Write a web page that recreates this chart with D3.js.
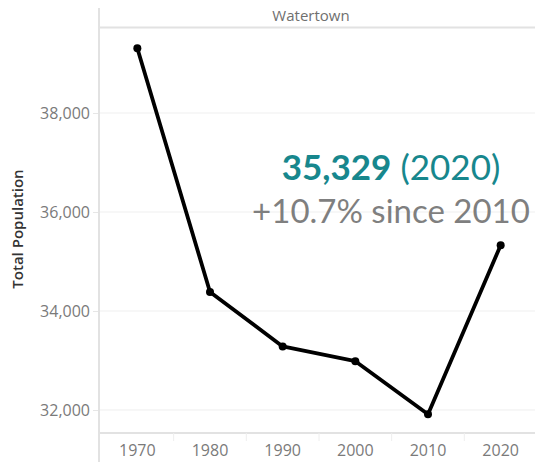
<!DOCTYPE html>
<html>
<head>
<meta charset="utf-8">
<script src="https://cdn.jsdelivr.net/npm/d3@7"></script>
<style>
  body { margin: 0; background: #fff; }
  svg { display: block; font-family: "Open Sans", sans-serif; }
</style>
</head>
<body>
<svg id="chart" width="535" height="462"></svg>
<script>
// census years and population, Watertown
var years = ["1970", "1980", "1990", "2000", "2010", "2020"];
var population = [39307, 34384, 33284, 32986, 31915, 35329];
var yTicks = [32000, 34000, 36000, 38000];
var townName = "Watertown";
var yTitle = "Total Population";

var svg = d3.select("#chart");
var plotL = 100, plotR = 535, plotT = 28, plotB = 433;

var x = d3.scaleBand().domain(years).range([plotL + 1, plotR + 2]);
var y = d3.scaleLinear().domain([31535, 39717]).range([plotB, plotT]);

var data = years.map(function(d, i) { return { year: d, value: population[i] }; });

// header band
svg.append("line")
    .attr("x1", plotL).attr("x2", plotR)
    .attr("y1", plotT - 0.5).attr("y2", plotT - 0.5)
    .attr("stroke", "#e2e2e2").attr("stroke-width", 2);
svg.append("text")
    .attr("x", 311).attr("y", 21)
    .attr("text-anchor", "middle")
    .attr("font-size", 15)
    .attr("fill", "#6f6f6f")
    .text(townName);

// gridlines
svg.append("g").selectAll("line")
    .data(yTicks)
    .enter().append("line")
    .attr("x1", plotL).attr("x2", plotR)
    .attr("y1", function(d) { return y(d); })
    .attr("y2", function(d) { return y(d); })
    .attr("stroke", "#efefef").attr("stroke-width", 1);

// y axis
var yAxis = svg.append("g")
    .attr("transform", "translate(" + plotL + ",0)")
    .call(d3.axisLeft(y).tickValues(yTicks).tickSize(7).tickPadding(3).tickFormat(d3.format(",")));
yAxis.select(".domain").remove();
yAxis.selectAll(".tick line").attr("stroke", "#e6e6e6");
yAxis.selectAll(".tick text")
    .attr("font-family", "Open Sans, sans-serif")
    .attr("font-size", 16).attr("fill", "#7a7a7a");

svg.append("line")
    .attr("x1", plotL - 1).attr("x2", plotL - 1)
    .attr("y1", 8).attr("y2", 462)
    .attr("stroke", "#e2e2e2").attr("stroke-width", 2);

svg.append("text")
    .attr("transform", "translate(23," + 229 + ") rotate(-90)")
    .attr("text-anchor", "middle")
    .attr("font-size", 15)
    .attr("font-weight", 600)
    .attr("fill", "#333")
    .text(yTitle);

// x axis
svg.append("line")
    .attr("x1", plotL).attr("x2", plotR)
    .attr("y1", plotB).attr("y2", plotB)
    .attr("stroke", "#e2e2e2").attr("stroke-width", 2);
var xAxis = svg.append("g")
    .attr("transform", "translate(0," + plotB + ")")
    .call(d3.axisBottom(x).tickSize(0).tickPadding(12));
xAxis.select(".domain").remove();
xAxis.selectAll(".tick text")
    .attr("font-family", "Open Sans, sans-serif")
    .attr("font-size", 16).attr("fill", "#7a7a7a");
svg.append("g").selectAll("line")
    .data(years.slice(1))
    .enter().append("line")
    .attr("x1", function(d) { return x(d); })
    .attr("x2", function(d) { return x(d); })
    .attr("y1", plotB).attr("y2", plotB + 8)
    .attr("stroke", "#eeeeee");

// the line
var line = d3.line()
    .x(function(d) { return x(d.year) + x.bandwidth() / 2; })
    .y(function(d) { return y(d.value); });

svg.append("path")
    .datum(data)
    .attr("d", line)
    .attr("fill", "none")
    .attr("stroke", "#000")
    .attr("stroke-width", 3.8)
    .attr("stroke-linejoin", "round");

svg.append("g").selectAll("circle")
    .data(data)
    .enter().append("circle")
    .attr("cx", function(d) { return x(d.year) + x.bandwidth() / 2; })
    .attr("cy", function(d) { return y(d.value); })
    .attr("r", 4)
    .attr("fill", "#000");

// annotation
var last = data[data.length - 1], prev = data[data.length - 2];
var change = (last.value - prev.value) / prev.value * 100;

var t1 = svg.append("text")
    .attr("x", 391).attr("y", 180)
    .attr("text-anchor", "middle")
    .attr("font-family", "Lato, sans-serif")
    .attr("font-size", 35)
    .attr("fill", "#17878d");
t1.append("tspan").attr("font-weight", 700).text(d3.format(",")(last.value));
t1.append("tspan").text(" (" + last.year + ")");

svg.append("text")
    .attr("x", 391).attr("y", 223)
    .attr("text-anchor", "middle")
    .attr("font-family", "Lato, sans-serif")
    .attr("font-size", 33)
    .attr("fill", "#7f7f7f")
    .text("+" + change.toFixed(1) + "% since " + prev.year);
</script>
</body>
</html>
